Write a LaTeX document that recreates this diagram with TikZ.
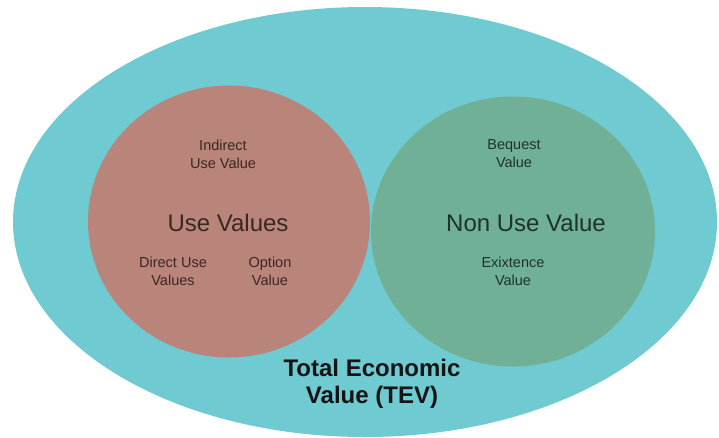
\documentclass[tikz,border=0pt]{standalone}
\usepackage{fontspec}
\setmainfont{Liberation Sans}
\definecolor{tevteal}{HTML}{70CAD1}
\definecolor{usebrown}{HTML}{B9857B}
\definecolor{nongreen}{HTML}{6FB097}
\definecolor{lefttext}{HTML}{3A2724}
\definecolor{righttext}{HTML}{1E3329}
\begin{document}
\begin{tikzpicture}[x=1pt,y=-1pt,
  small/.style={align=center,font=\fontsize{14.5}{18}\selectfont,inner sep=0pt},
  big/.style={font=\fontsize{24}{28}\selectfont,inner sep=0pt},
  tev/.style={align=center,font=\fontsize{24}{27}\selectfont\bfseries,inner sep=0pt,text depth=0pt,text=black!92}]
\useasboundingbox (0,0) rectangle (719,437);
\fill[tevteal] (365,222) ellipse [x radius=352, y radius=215];
\fill[usebrown] (229,221.5) ellipse [x radius=141, y radius=136];
\fill[nongreen] (513,231.5) ellipse [x radius=142, y radius=135];
\node[small,text=lefttext] (indirect) at (223,154) {Indirect\\Use Value};
\node[big,text=lefttext] (usevalues) at (228,222.5) {Use Values};
\node[small,text=lefttext] (direct) at (173,271) {Direct Use\\Values};
\node[small,text=lefttext] (option) at (270,271) {Option\\Value};
\node[small,text=righttext] (bequest) at (514,154) {Bequest\\Value};
\node[big,text=righttext] (nonuse) at (526,222.5) {Non Use Value};
\node[small,text=righttext] (existence) at (513,271) {Exixtence\\Value};
\node[tev] (tevlabel) at (372,381) {Total Economic\\Value (TEV)};
\end{tikzpicture}
\end{document}
